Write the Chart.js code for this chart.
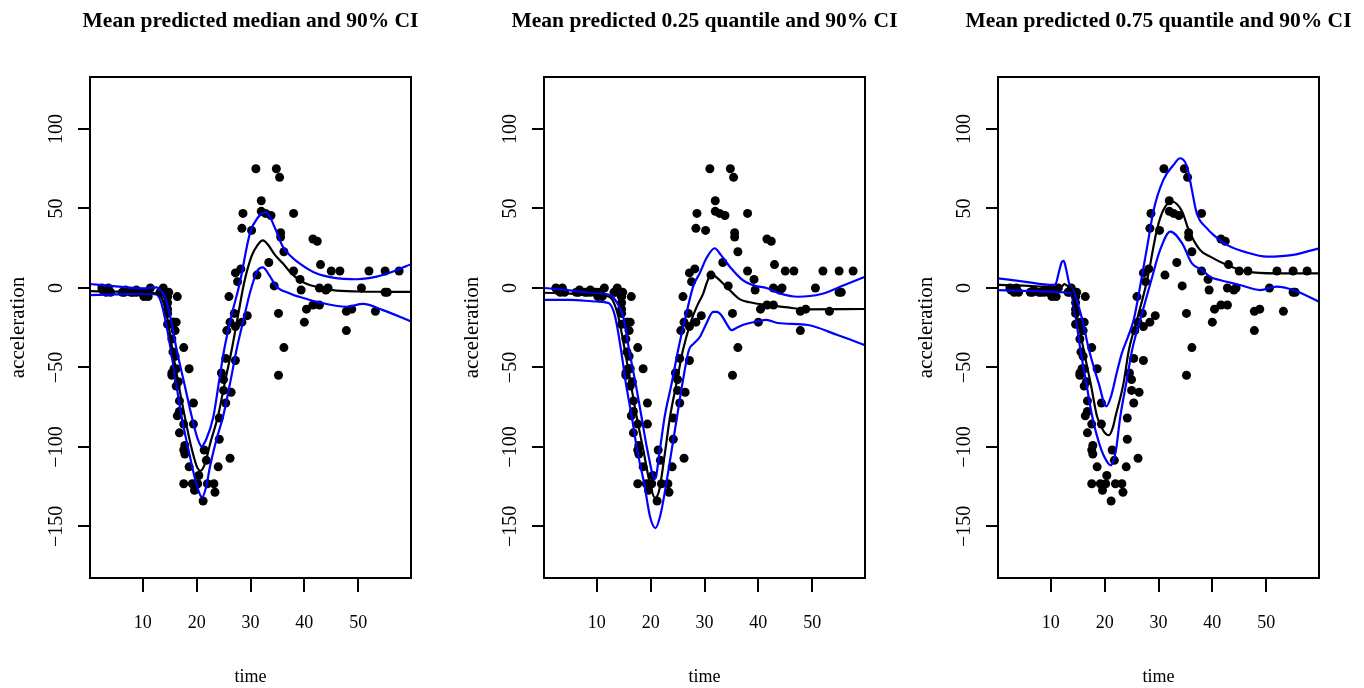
<!DOCTYPE html>
<html>
<head>
<meta charset="utf-8">
<script src="https://cdn.jsdelivr.net/npm/chart.js"></script>
<style>
html, body { margin: 0; padding: 0; background: #fff; overflow: hidden; }
.panel { position: absolute; top: 0; width: 455px; height: 688px; }
</style>
</head>
<body>
<div class="panel" style="left:0px"><canvas id="c0" width="455" height="688"></canvas></div>
<div class="panel" style="left:454px"><canvas id="c1" width="455" height="688"></canvas></div>
<div class="panel" style="left:908px"><canvas id="c2" width="455" height="688"></canvas></div>
<script>
// ---------------- DATA ----------------
const timeVals = [2.4, 2.6, 3.2, 3.6, 4.0, 6.2, 6.6, 6.8, 7.8, 8.2, 8.8, 8.8, 9.6, 10.0, 10.2, 10.6, 11.0, 11.4, 13.2, 13.6,
    13.8, 14.6, 14.6, 14.6, 14.6, 14.6, 14.6, 14.8, 15.4, 15.4, 15.4, 15.4, 15.6, 15.6, 15.8, 15.8, 16.0, 16.0, 16.2, 16.2,
    16.2, 16.4, 16.4, 16.6, 16.8, 16.8, 16.8, 17.6, 17.6, 17.6, 17.6, 17.8, 17.8, 18.6, 18.6, 19.2, 19.4, 19.4, 19.6, 20.2,
    20.4, 21.2, 21.4, 21.8, 22.0, 23.2, 23.4, 24.0, 24.2, 24.2, 24.6, 25.0, 25.0, 25.4, 25.4, 25.6, 26.0, 26.2, 26.2, 26.4,
    27.0, 27.2, 27.2, 27.2, 27.6, 28.2, 28.4, 28.4, 28.6, 29.4, 30.2, 31.0, 31.2, 32.0, 32.0, 32.8, 33.4, 33.8, 34.4, 34.8,
    35.2, 35.2, 35.4, 35.6, 35.6, 36.2, 36.2, 38.0, 38.0, 39.2, 39.4, 40.0, 40.4, 41.6, 41.6, 42.4, 42.8, 42.8, 43.0, 44.0,
    44.4, 45.0, 46.6, 47.8, 47.8, 48.8, 50.6, 52.0, 53.2, 55.0, 55.0, 55.4, 57.6];
const accelVals = [0.0, -1.3, -2.7, 0.0, -2.7, -2.7, -2.7, -1.3, -2.7, -2.7, -1.3, -2.7, -2.7, -2.7, -5.4, -2.7, -5.4, 0.0, -2.7, -2.7,
    0.0, -13.3, -5.4, -5.4, -9.3, -16.0, -22.8, -2.7, -22.8, -32.1, -53.5, -54.9, -40.2, -21.5, -21.5, -50.8, -42.9, -26.8, -21.5, -50.8,
    -61.7, -5.4, -80.4, -59.0, -71.0, -91.1, -77.7, -37.5, -85.6, -123.1, -101.9, -99.1, -104.4, -112.5, -50.8, -123.1, -85.6, -72.3, -127.2, -123.1,
    -117.9, -134.0, -101.9, -108.4, -123.1, -123.1, -128.5, -112.5, -95.1, -81.8, -53.5, -64.4, -57.6, -72.3, -44.3, -26.8, -5.4, -107.1, -21.5, -65.6,
    -16.0, -45.6, -24.2, 9.5, 4.0, 12.0, -21.5, 37.5, 46.9, -17.4, 36.2, 75.0, 8.1, 54.9, 48.2, 46.9, 16.0, 45.6, 1.3, 75.0,
    -16.0, -54.9, 69.6, 34.8, 32.1, -37.5, 22.8, 46.9, 10.7, 5.4, -1.3, -21.5, -13.3, 30.8, -10.7, 29.4, 0.0, -10.7, 14.7, -1.3,
    0.0, 10.7, 10.7, -26.8, -14.7, -13.3, 0.0, 10.7, -14.7, -2.7, 10.7, -2.7, 10.7];

const xTicks = [10, 20, 30, 40, 50];
const yTicks = [-150, -100, -50, 0, 50, 100];

const panelTitles = [
    "Mean predicted median and 90% CI",
    "Mean predicted 0.25 quantile and 90% CI",
    "Mean predicted 0.75 quantile and 90% CI"
];

// panel 1: median
const medMidT = [0.19, 5, 10, 12.5, 13.5, 14.5, 15.5, 16.5, 17.8, 19, 20, 20.7, 21.5, 22.5, 24, 25.2, 26.5, 27.7, 28.8, 30.2, 31.3, 32.3, 33.3, 34.5, 36, 37.5, 39.1, 40.5, 42.2, 45.3, 50, 55, 59.81];
const medMid = [-2, -2.3, -2.5, -3.5, -6, -18, -39, -58, -81, -100, -112, -115, -111, -98, -80, -60, -39, -17, 3, 20, 27, 30, 27, 21, 15.5, 9.5, 5, 2.5, 0.8, -1.3, -2.2, -2.4, -2.5];
const medUpT = [0.19, 5, 10, 12.6, 13.2, 14.1, 15.1, 16.3, 17.7, 19.1, 20.2, 20.9, 21.8, 23.1, 24.1, 25.1, 26.5, 28.0, 29.9, 31.3, 33.0, 34.5, 36.0, 37.5, 39.1, 42.2, 45.3, 49.6, 52, 54.6, 57, 59.81];
const medUp = [2.5, 1, -0.3, 0.4, -1.3, -5.5, -18, -39, -60, -81, -95, -99.6, -95, -81, -60, -39, -17, 3, 34.5, 44, 47.5, 38, 26, 20, 15.5, 9.2, 6.5, 5.5, 6.2, 8.2, 11, 15];
const medLoT = [0.19, 5, 10, 12.5, 13.3, 14.3, 15.2, 16.2, 17.2, 18.5, 19.7, 20.5, 21.0, 21.7, 22.5, 23.7, 24.9, 26.2, 27.4, 28.7, 29.9, 31.3, 32.3, 33.5, 34.8, 37.3, 39.5, 42.2, 47.8, 50.9, 54.6, 59.81];
const medLo = [-4.5, -4, -3.5, -4, -8, -22, -39, -60, -81, -102, -120, -129, -131.5, -126, -112, -95, -81, -60, -39, -20, -3, 11, 13, 8, 1, -3.4, -6, -8.6, -11.8, -10, -13.9, -21];

// panel 2: 0.25 quantile
const q25MidT = [0.19, 5, 10, 12.3, 13.0, 14.0, 14.6, 15.2, 16.3, 17.4, 18.7, 19.8, 20.8, 21.6, 22.6, 23.6, 24.8, 26.0, 27.6, 28.8, 29.7, 30.5, 31.3, 32.3, 33.4, 35.3, 36.5, 38.4, 41.5, 45, 48.6, 59.81];
const q25Mid = [-3, -3.5, -4.5, -5.5, -8, -18, -28, -39, -60, -81, -103, -122, -132, -127, -105, -81, -60, -39, -20, -10, -4, 4, 9, 6.5, 3, -3.4, -7, -9, -10.7, -12, -13.4, -13.2];
const q25UpT = [0.19, 5, 10, 12.5, 13.5, 14.9, 16.0, 17.2, 18.3, 19.4, 20.8, 21.7, 22.6, 23.9, 25.1, 26.5, 27.9, 29.1, 30.4, 31.9, 33.0, 34.7, 37.1, 39.3, 41.5, 44, 47.3, 51.7, 56.0, 59.81];
const q25Up = [0, -1.5, -3.5, -4.5, -8, -18, -39, -60, -81, -102, -120, -102, -81, -60, -39, -18, 1, 9.2, 19, 25, 21, 13.4, 5, 1.5, 0, -3.5, -5.5, -3.8, 1.9, 7];
const q25LoT = [0.19, 5, 10, 12.2, 13.4, 14.5, 15.4, 16.5, 17.5, 18.8, 19.9, 20.9, 21.8, 22.9, 23.9, 24.9, 25.9, 27.1, 28.0, 29.1, 30.4, 31.6, 32.3, 33.1, 34.2, 35.0, 36.0, 37.1, 39.9, 41.5, 43.6, 49.2, 54.7, 59.81];
const q25Lo = [-7.5, -7.5, -8.5, -9.5, -18, -39, -60, -81, -102, -123, -144, -151, -143, -123, -102, -81, -60, -39, -35, -31, -22, -15, -15, -17, -23, -26.5, -25, -23.3, -21, -20, -22, -23.3, -29.6, -36];

// panel 3: 0.75 quantile
const q75MidT = [0.19, 5, 10, 12.0, 12.5, 13.0, 13.7, 14.9, 16.1, 17.4, 18.6, 19.8, 20.8, 21.5, 22.0, 23.5, 24.5, 26.0, 27.9, 29.7, 30.9, 32.5, 34.4, 35.6, 37.7, 39.6, 42.7, 46.4, 51.9, 59.81];
const q75Mid = [1.9, 1.5, 0.6, 0.8, 2.5, 1.5, 0, -18, -39, -60, -81, -90, -92.6, -88, -81, -60, -39, -20, 5, 36.5, 49, 54.4, 48, 36.5, 24, 19.7, 14.5, 10.3, 9.2, 9.2];
const q75UpT = [0.19, 5, 10.3, 10.9, 11.5, 12.0, 12.4, 12.9, 13.4, 14.1, 15.7, 17.1, 18.9, 20.3, 21.2, 22.2, 23.2, 24.3, 25.4, 26.8, 28.0, 29.1, 30.9, 32.8, 34.0, 35.3, 36.2, 37.1, 39.0, 40.2, 42.7, 46.4, 50.1, 55.0, 59.81];
const q75Up = [6.1, 4, 1.9, 2.5, 10, 16, 17, 11, 3, -1, -18, -39, -60, -74.4, -68, -54, -41, -31, -20, 5, 28, 49, 68, 77.4, 81.6, 76.3, 61.7, 47, 37.5, 33.4, 27.1, 22.3, 19.7, 20.8, 25];
const q75LoT = [0.19, 5, 10, 12.5, 13.7, 14.6, 15.5, 16.6, 17.7, 19.4, 20.4, 21.1, 21.6, 22.1, 22.9, 24.0, 25.1, 26.6, 28.5, 30.3, 32.2, 34.4, 36.2, 38.1, 39.6, 41.4, 45.1, 48.9, 51.9, 55.0, 59.81];
const q75Lo = [-1.3, -1.8, -2.3, -2.8, -3.3, -18, -39, -60, -81, -102, -109, -111.5, -109, -102, -81, -60, -39, -20, 3, 24, 35.5, 28, 15.5, 11.3, 7, 5, 1.9, -1.3, 0.8, -1.3, -8.6];

const panelCurves = [
    { mid: [medMidT, medMid], up: [medUpT, medUp], lo: [medLoT, medLo] },
    { mid: [q25MidT, q25Mid], up: [q25UpT, q25Up], lo: [q25LoT, q25Lo] },
    { mid: [q75MidT, q75Mid], up: [q75UpT, q75Up], lo: [q75LoT, q75Lo] }
];

// ---------------- HELPERS ----------------
const SERIF = "'Liberation Serif', 'DejaVu Serif', serif";

function pts(xs, ys) {
    return xs.map((x, i) => ({ x: x, y: ys[i] }));
}

function curve(pair, color) {
    return {
        data: pts(pair[0], pair[1]),
        showLine: true,
        borderColor: color,
        borderWidth: 2.2,
        pointRadius: 0,
        cubicInterpolationMode: "monotone",
        fill: false
    };
}

function minusSign(v) {
    return String(v).replace("-", "\u2212");
}

// frame around the plot region + main title centred over it (like R)
const framePlugin = {
    id: "frame",
    afterDraw(chart, args, opts) {
        const a = chart.chartArea;
        const ctx = chart.ctx;
        ctx.save();
        ctx.strokeStyle = "#000";
        ctx.lineWidth = 2;
        ctx.strokeRect(a.left, a.top, a.right - a.left, a.bottom - a.top);

        ctx.fillStyle = "#000";
        ctx.font = "bold 21.5px " + SERIF;
        ctx.textAlign = "center";
        ctx.textBaseline = "middle";
        ctx.fillText(opts.text, (a.left + a.right) / 2, 21);
        ctx.restore();
    }
};

// ---------------- CHARTS ----------------
panelCurves.forEach((c, i) => {
    new Chart(document.getElementById("c" + i), {
        type: "scatter",
        data: {
            datasets: [
                curve(c.mid, "#000000"),
                curve(c.up, "#0000ff"),
                curve(c.lo, "#0000ff"),
                {
                    data: pts(timeVals, accelVals),
                    pointRadius: 4.5,
                    pointBackgroundColor: "#000",
                    pointBorderWidth: 0,
                    showLine: false
                }
            ]
        },
        options: {
            responsive: false,
            animation: false,
            events: [],
            layout: { padding: { left: 0, right: 44, top: 77, bottom: 0 } },
            plugins: {
                legend: { display: false },
                tooltip: { enabled: false },
                title: { display: false },
                frame: { text: panelTitles[i] }
            },
            scales: {
                x: {
                    type: "linear",
                    min: 0.192,
                    max: 59.808,
                    afterBuildTicks: s => { s.ticks = xTicks.map(v => ({ value: v })); },
                    afterFit: s => { s.height = 110; },
                    border: { display: false },
                    grid: { drawOnChartArea: false, tickLength: 14, color: "#000", lineWidth: 2 },
                    ticks: {
                        color: "#000",
                        font: { family: SERIF, size: 18 },
                        padding: 20,
                        maxRotation: 0
                    },
                    title: {
                        display: true,
                        text: "time",
                        color: "#000",
                        font: { family: SERIF, size: 18 },
                        padding: { top: 0, bottom: 0 }
                    }
                },
                y: {
                    type: "linear",
                    min: -182.4,
                    max: 132.7,
                    afterBuildTicks: s => { s.ticks = yTicks.map(v => ({ value: v })); },
                    afterFit: s => { s.width = 90; },
                    border: { display: false },
                    grid: { drawOnChartArea: false, tickLength: 12, color: "#000", lineWidth: 2 },
                    ticks: {
                        color: "#000",
                        font: { family: SERIF, size: 20 },
                        minRotation: 90,
                        maxRotation: 90,
                        crossAlign: "center",
                        padding: 1,
                        callback: v => minusSign(v)
                    },
                    title: {
                        display: true,
                        text: "acceleration",
                        color: "#000",
                        font: { family: SERIF, size: 21 },
                        padding: { top: 6, bottom: 0 }
                    }
                }
            }
        },
        plugins: [framePlugin]
    });
});
</script>
</body>
</html>
